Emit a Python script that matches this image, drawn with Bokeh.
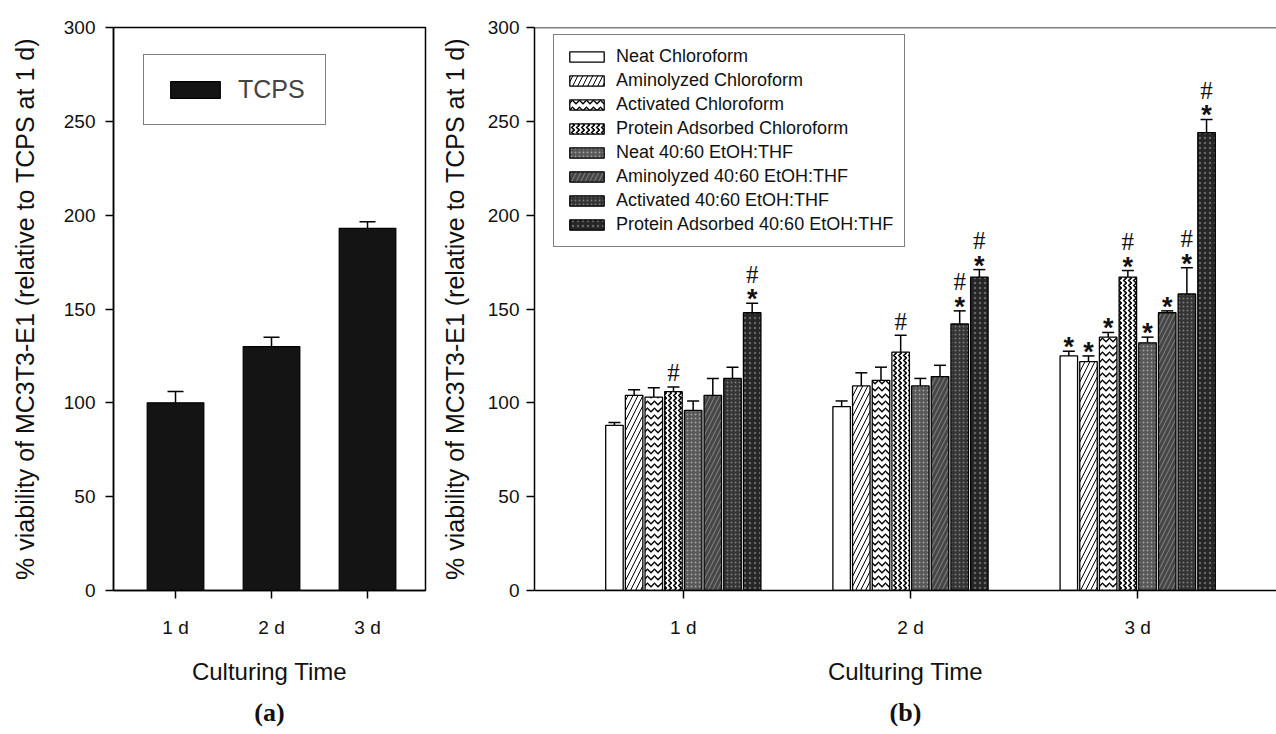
from bokeh.plotting import figure
from bokeh.models import (ColumnDataSource, Whisker, TeeHead, FixedTicker, Legend, LegendItem,
                          Span, Range1d, Title)
from bokeh.layouts import row
from bokeh.embed import file_html
from bokeh.resources import INLINE

# ---------------- data ----------------
days = ["1 d", "2 d", "3 d"]
y_ticks = [0, 50, 100, 150, 200, 250, 300]

tcps = [100, 130, 193]
tcps_err = [6, 5, 3.5]

series_names = [
    "Neat Chloroform",
    "Aminolyzed Chloroform",
    "Activated Chloroform",
    "Protein Adsorbed Chloroform",
    "Neat 40:60 EtOH:THF",
    "Aminolyzed 40:60 EtOH:THF",
    "Activated 40:60 EtOH:THF",
    "Protein Adsorbed 40:60 EtOH:THF",
]
neat_chloroform = [88, 98, 125]
aminolyzed_chloroform = [104, 109, 122]
activated_chloroform = [103, 112, 135]
protein_chloroform = [106, 127, 167]
neat_etoh = [96, 109, 132]
aminolyzed_etoh = [104, 114, 148]
activated_etoh = [113, 142, 158]
protein_etoh = [148, 167, 244]

neat_chloroform_err = [1.5, 3, 2.5]
aminolyzed_chloroform_err = [3, 7, 3]
activated_chloroform_err = [5, 7, 2.5]
protein_chloroform_err = [2.5, 9, 3.5]
neat_etoh_err = [5, 4, 3]
aminolyzed_etoh_err = [9, 6, 1]
activated_etoh_err = [6, 7, 14]
protein_etoh_err = [5, 4, 7]

# significance marks per series per day
neat_chloroform_marks = ["", "", "*"]
aminolyzed_chloroform_marks = ["", "", "*"]
activated_chloroform_marks = ["", "", "*"]
protein_chloroform_marks = ["#", "#", "*#"]
neat_etoh_marks = ["", "", "*"]
aminolyzed_etoh_marks = ["", "", "*"]
activated_etoh_marks = ["", "*#", "*#"]
protein_etoh_marks = ["*#", "*#", "*#"]

values = [neat_chloroform, aminolyzed_chloroform, activated_chloroform, protein_chloroform,
          neat_etoh, aminolyzed_etoh, activated_etoh, protein_etoh]
errors = [neat_chloroform_err, aminolyzed_chloroform_err, activated_chloroform_err,
          protein_chloroform_err, neat_etoh_err, aminolyzed_etoh_err, activated_etoh_err,
          protein_etoh_err]
marks = [neat_chloroform_marks, aminolyzed_chloroform_marks, activated_chloroform_marks,
         protein_chloroform_marks, neat_etoh_marks, aminolyzed_etoh_marks,
         activated_etoh_marks, protein_etoh_marks]

# ---------------- styles ----------------
FONT = "Liberation Sans"
fills = ["white", "white", "white", "white", "#575757", "#464646", "#343434", "#262626"]
hatches = [" ", "/", "v", ">", ".", "/", ".", "."]
hatch_colors = ["black", "black", "black", "black", "#a0a0a0", "#777777", "#7a7a7a", "#666666"]
hatch_scales = [12, 10, 7, 5, 4, 9, 4, 5]
hatch_weights = [1, 1, 1.3, 1.6, 1.2, 1.2, 1.2, 1.2]

positions = [1, 2, 3]


def style(p, label, tick_standoff, label_standoff):
    p.xaxis.ticker = FixedTicker(ticks=positions)
    p.xaxis.major_label_overrides = {pos: d for pos, d in zip(positions, days)}
    p.yaxis.ticker = FixedTicker(ticks=y_ticks)
    for ax in (p.xaxis[0], p.yaxis[0]):
        ax.axis_line_width = 1.5
        ax.axis_line_color = "black"
        ax.major_tick_out = 8
        ax.major_tick_in = 0
        ax.major_tick_line_width = 1.5
        ax.minor_tick_out = 0
        ax.minor_tick_in = 0
        ax.major_label_text_font = FONT
        ax.major_label_text_font_size = "19px"
        ax.major_label_text_color = "#111111"
        ax.axis_label_text_font = FONT
        ax.axis_label_text_font_style = "normal"
        ax.axis_label_text_color = "#111111"
    p.yaxis.axis_label = "% viability of MC3T3-E1 (relative to TCPS at 1 d)"
    p.yaxis.axis_label_text_font_size = "25px"
    p.yaxis.major_label_standoff = tick_standoff
    p.yaxis.axis_label_standoff = label_standoff
    p.xaxis.axis_label = "Culturing Time"
    p.xaxis.axis_label_text_font_size = "24px"
    p.xaxis.major_label_standoff = 18
    p.xaxis.axis_label_standoff = 17
    p.xgrid.visible = False
    p.ygrid.visible = False
    t = Title(text=label, align="center", text_font="Liberation Serif",
              text_font_style="bold", text_font_size="26px", text_color="#111111",
              standoff=16)
    p.add_layout(t, "below")


# ---------------- panel (a) ----------------
pa = figure(width=437, height=734, x_range=Range1d(0.354, 3.604), y_range=Range1d(0, 300),
            output_backend="svg", toolbar_location=None,
            min_border_left=113, min_border_right=12, min_border_top=26, min_border_bottom=144)
pa.outline_line_color = "black"
pa.outline_line_width = 1.5
src_a = ColumnDataSource(dict(x=positions, top=tcps,
                              upper=[v + e for v, e in zip(tcps, tcps_err)]))
ra = pa.vbar(x="x", top="top", width=0.59, source=src_a, fill_color="#141414",
             line_color="black", line_width=1.2)
pa.add_layout(Whisker(source=src_a, base="x", upper="upper", lower="top", dimension="height",
                      upper_head=TeeHead(size=16, line_width=1.5), lower_head=None,
                      line_width=1.5, line_color="black"))
leg_a = Legend(items=[LegendItem(label="TCPS", renderers=[ra])], location=(30, 465),
               margin=0, padding=20, glyph_width=62, glyph_height=21, label_standoff=12,
               label_text_font=FONT, label_text_font_size="25px",
               border_line_color="black", border_line_width=1.5)
pa.add_layout(leg_a)
style(pa, "(a)", 10, 22)

# ---------------- panel (b) ----------------
pb = figure(width=839, height=734, x_range=Range1d(0.345, 3.611), y_range=Range1d(0, 300),
            output_backend="svg", toolbar_location=None,
            min_border_left=96, min_border_right=0, min_border_top=27, min_border_bottom=143)
pb.outline_line_color = None
pb.add_layout(Span(location=y_ticks[-1], dimension="width", line_color="black", line_width=1.5))

n = len(series_names)
pitch = 0.0866
bar_w = 0.077
items = []
star_x, star_y, hash1_x, hash1_y, hash2_x, hash2_y = [], [], [], [], [], []
for i in range(n):
    xs = [pos + (i - (n - 1) / 2) * pitch for pos in positions]
    ups = [v + e for v, e in zip(values[i], errors[i])]
    src = ColumnDataSource(dict(x=xs, top=values[i], upper=ups))
    r = pb.vbar(x="x", top="top", width=bar_w, source=src, fill_color=fills[i],
                hatch_pattern=hatches[i], hatch_color=hatch_colors[i],
                hatch_scale=hatch_scales[i], hatch_weight=hatch_weights[i],
                line_color="black", line_width=1.3)
    pb.add_layout(Whisker(source=src, base="x", upper="upper", lower="top", dimension="height",
                          upper_head=TeeHead(size=12, line_width=1.5), lower_head=None,
                          line_width=1.5, line_color="black"))
    items.append(LegendItem(label=series_names[i], renderers=[r]))
    for x, u, m in zip(xs, ups, marks[i]):
        if "*" in m:
            star_x.append(x); star_y.append(u)
            if "#" in m:
                hash2_x.append(x); hash2_y.append(u)
        elif "#" in m:
            hash1_x.append(x); hash1_y.append(u)

pb.text(x=star_x, y=star_y, text=["*"] * len(star_x), text_font={"value": FONT},
        text_font_style="bold", text_font_size="27px", text_align="center",
        text_baseline="middle", y_offset=-4, text_color="#111111")
pb.text(x=hash1_x, y=hash1_y, text=["#"] * len(hash1_x), text_font={"value": "Liberation Serif"},
        text_font_size="25px", text_align="center", text_baseline="middle", y_offset=-14,
        text_color="#111111")
pb.text(x=hash2_x, y=hash2_y, text=["#"] * len(hash2_x), text_font={"value": "Liberation Serif"},
        text_font_size="25px", text_align="center", text_baseline="middle", y_offset=-29,
        text_color="#111111")

leg_b = Legend(items=items, location=(19, 343), margin=0, padding=11, spacing=3,
               glyph_width=43, glyph_height=13, label_standoff=8, label_height=20,
               label_text_font=FONT, label_text_font_size="18px", label_text_color="#111111",
               border_line_color="black", border_line_width=1.5)
pb.add_layout(leg_b)
style(pb, "(b)", 7, 16)

layout = row(pa, pb, spacing=0)
open("out.html", "w").write(file_html(layout, INLINE))
